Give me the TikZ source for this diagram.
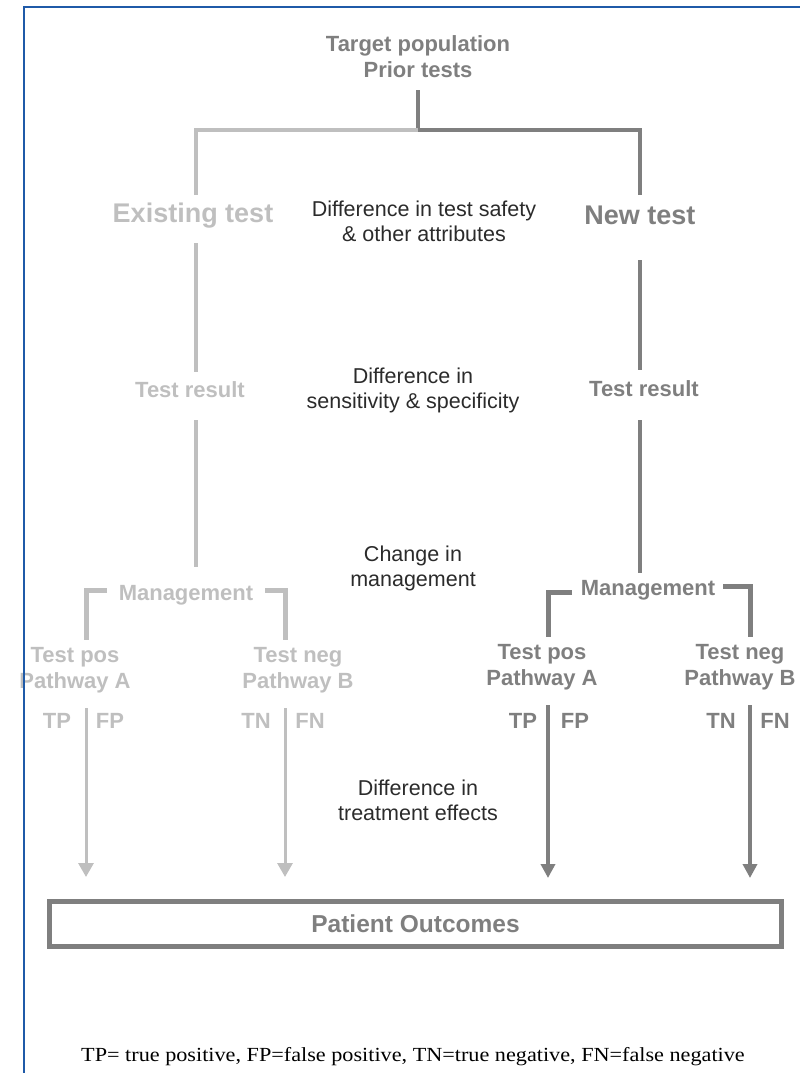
\documentclass[tikz,border=0pt]{standalone}
\usepackage{fontspec}
\setmainfont{Liberation Serif}
\setsansfont{Liberation Sans}
\usetikzlibrary{arrows.meta}
\definecolor{lightln}{HTML}{BFBFBF}
\definecolor{darkln}{HTML}{7F7F7F}
\definecolor{bodytxt}{HTML}{2B2B2B}
\definecolor{frameblue}{HTML}{1F5AA8}
\tikzset{
  lbl/.style={font=\sffamily\bfseries\fontsize{22}{26}\selectfont, align=center, inner sep=0pt, yshift=-2pt},
  big/.style={font=\sffamily\bfseries\fontsize{27}{30}\selectfont, inner sep=0pt, yshift=-2pt},
  note/.style={font=\sffamily\fontsize{21.5}{25}\selectfont, text=bodytxt, align=center, inner sep=0pt},
  oldc/.style={text=lightln},
  newc/.style={text=darkln},
  oldln/.style={draw=lightln, line width=4pt},
  newln/.style={draw=darkln, line width=4pt},
  oldarr/.style={draw=lightln, line width=3pt, -{Triangle[length=14pt,width=15pt]}},
  newarr/.style={draw=darkln, line width=4pt, -{Triangle[length=14pt,width=14pt]}},
}
\begin{document}
\begin{tikzpicture}[x=1pt,y=-1pt]
\useasboundingbox (0,0) rectangle (800,1073);

% ---------- text ----------
\node[lbl, newc] (top) at (418,55) {Target population\\Prior tests};
\node[big, oldc] (exist) at (193,214) {Existing test};
\node[big, newc] (new) at (640,213) {New test};
\node[note] (safety) at (424,221) {Difference in test safety\\\& other attributes};

\node[lbl, oldc] (trL) at (190,388) {Test result};
\node[lbl, newc] (trR) at (644,387) {Test result};
\node[note] (sens) at (413,390) {Difference in\\sensitivity \& specificity};

\node[note] (chg) at (413,568) {Change in\\management};
\node[lbl, oldc] (mgL) at (186,593) {Management};
\node[lbl, newc] (mgR) at (648,588) {Management};

\node[lbl, oldc] (posL) at (75,668) {Test pos\\Pathway A};
\node[lbl, oldc] (negL) at (298,668) {Test neg\\Pathway B};
\node[lbl, newc] (posR) at (542,665) {Test pos\\Pathway A};
\node[lbl, newc] (negR) at (740,665) {Test neg\\Pathway B};

\node[lbl, oldc] (tpL) at (57,719) {TP};
\node[lbl, oldc] (fpL) at (110,719) {FP};
\node[lbl, oldc] (tnL) at (256,719) {TN};
\node[lbl, oldc] (fnL) at (310,719) {FN};
\node[lbl, newc] (tpR) at (523,719) {TP};
\node[lbl, newc] (fpR) at (575,719) {FP};
\node[lbl, newc] (tnR) at (721,719) {TN};
\node[lbl, newc] (fnR) at (775,719) {FN};

\node[note] (treat) at (418,800) {Difference in\\treatment effects};

\node[draw=darkln, line width=5pt, minimum width=732pt, minimum height=45pt,
      font=\sffamily\bfseries\fontsize{24.5}{28}\selectfont, text=darkln]
      (out) at (415.5,924) {\raisebox{-2pt}{Patient Outcomes}};

\node[font=\rmfamily\fontsize{20}{24}\selectfont, inner sep=0pt] (foot) at (413,1057)
  {\scalebox{1.11}[1]{TP= true positive, FP=false positive, TN=true negative, FN=false negative}};

% ---------- junction points ----------
\coordinate (topEnd) at (418,90);
\coordinate (split) at (418,130);
\coordinate (cL) at (196,130);
\coordinate (cR) at (640,130);
\coordinate (exTop) at (196,195);
\coordinate (nwTop) at (640,195);
\coordinate (exBot) at (196,243);
\coordinate (nwBot) at (640,260);
\coordinate (trLtop) at (196,372);
\coordinate (trRtop) at (640,370);
\coordinate (trLbot) at (196,420);
\coordinate (trRbot) at (640,420);
\coordinate (mgLtop) at (196,567);
\coordinate (mgRtop) at (640,573);
% brackets under "Management"
\coordinate (bLa) at (107,590);
\coordinate (bLb) at (86,590);
\coordinate (bLc) at (86,640);
\coordinate (bLd) at (265,590);
\coordinate (bLe) at (285,590);
\coordinate (bLf) at (285,640);
\coordinate (bRa) at (572,592);
\coordinate (bRb) at (548,592);
\coordinate (bRc) at (548,637);
\coordinate (bRd) at (723,586);
\coordinate (bRe) at (750,586);
\coordinate (bRf) at (750,637);
% arrows into the outcome box
\coordinate (aL1) at (86,708);
\coordinate (aL2) at (285,708);
\coordinate (aR1) at (548,705);
\coordinate (aR2) at (750,705);
\coordinate (eL1) at (86,877);
\coordinate (eL2) at (285,877);
\coordinate (eR1) at (548,878);
\coordinate (eR2) at (750,878);

% ---------- connectors ----------
\draw[newln] (topEnd) -- (split);
\draw[oldln] (split) -- (cL) -- (exTop);
\draw[newln] (split) -- (cR) -- (nwTop);
\draw[oldln] (exBot) -- (trLtop);
\draw[newln] (nwBot) -- (trRtop);
\draw[oldln] (trLbot) -- (mgLtop);
\draw[newln] (trRbot) -- (mgRtop);

\draw[oldln, line width=5pt] (bLa) -- (bLb) -- (bLc);
\draw[oldln, line width=5pt] (bLd) -- (bLe) -- (bLf);
\draw[newln, line width=5pt] (bRa) -- (bRb) -- (bRc);
\draw[newln, line width=5pt] (bRd) -- (bRe) -- (bRf);

\draw[oldarr] (aL1) -- (eL1);
\draw[oldarr] (aL2) -- (eL2);
\draw[newarr] (aR1) -- (eR1);
\draw[newarr] (aR2) -- (eR2);

% page frame on the left and top
\draw[frameblue, line width=2pt] (24,1073) -- (24,7) -- (800,7);
\end{tikzpicture}
\end{document}
